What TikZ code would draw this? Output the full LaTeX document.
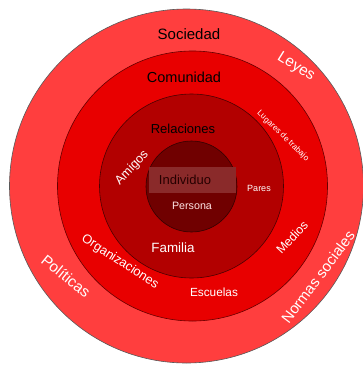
\documentclass[tikz,border=0pt]{standalone}
\usepackage{fontspec}
\setmainfont{Liberation Sans}
\definecolor{sociedadred}{RGB}{255,62,62}
\definecolor{comunidadred}{RGB}{232,0,0}
\definecolor{relacionesred}{RGB}{178,0,0}
\definecolor{individuored}{RGB}{112,0,0}
\definecolor{boxred}{RGB}{138,42,42}
\newcommand{\fs}[1]{\fontsize{#1}{#1}\selectfont}
\begin{document}
\begin{tikzpicture}[x=1pt,y=-1pt,
    ring/.style={line width=0.6pt},
    darklabel/.style={text=black},
    lightlabel/.style={text=white}]
    \useasboundingbox (0,0) rectangle (363,368);
    \filldraw[ring, fill=sociedadred, draw=black!65] (186.5,186) circle[radius=177pt];
    \filldraw[ring, fill=comunidadred, draw=red!40!black] (192.5,186) circle[radius=135pt];
    \filldraw[ring, fill=relacionesred, draw=red!30!black] (191.5,186) circle[radius=92pt];
    \filldraw[ring, fill=individuored, draw=red!20!black] (191.5,186.5) circle[radius=45.5pt];
    \fill[boxred] (149,167) rectangle (236,193);
    \node[darklabel, font=\fs{15}] (sociedad) at (189,34) {Sociedad};
    \node[darklabel, font=\fs{14.5}] (comunidad) at (184,77) {Comunidad};
    \node[darklabel, font=\fs{13}] (relaciones) at (183,129) {Relaciones};
    \node[text=red!15!black, font=\fs{13}] (individuo) at (185,180) {Individuo};
    \node[text=white!90!red, font=\fs{10.7}] (persona) at (192,206) {Persona};
    \node[lightlabel, font=\fs{9}] (pares) at (259,188) {Pares};
    \node[lightlabel, font=\fs{12.5}, rotate=46] (amigos) at (132,168) {Amigos};
    \node[lightlabel, font=\fs{13.4}] (familia) at (173,248) {Familia};
    \node[lightlabel, font=\fs{12.8}, rotate=-33] (organizaciones) at (120,262) {Organizaciones};
    \node[lightlabel, font=\fs{11.8}] (escuelas) at (214,292) {Escuelas};
    \node[lightlabel, font=\fs{12.3}, rotate=47] (medios) at (292,237) {Medios};
    \node[lightlabel, font=\fs{8.2}, rotate=-44] (lugares) at (283,136) {Lugares de trabajo};
    \node[lightlabel, font=\fs{15.3}, rotate=-32] (leyes) at (296,67) {Leyes};
    \node[lightlabel, font=\fs{15.3}, rotate=-39] (politicas) at (66,276) {Políticas};
    \node[lightlabel, font=\fs{15}, rotate=53] (normas) at (318,277) {Normas sociales};
\end{tikzpicture}
\end{document}
